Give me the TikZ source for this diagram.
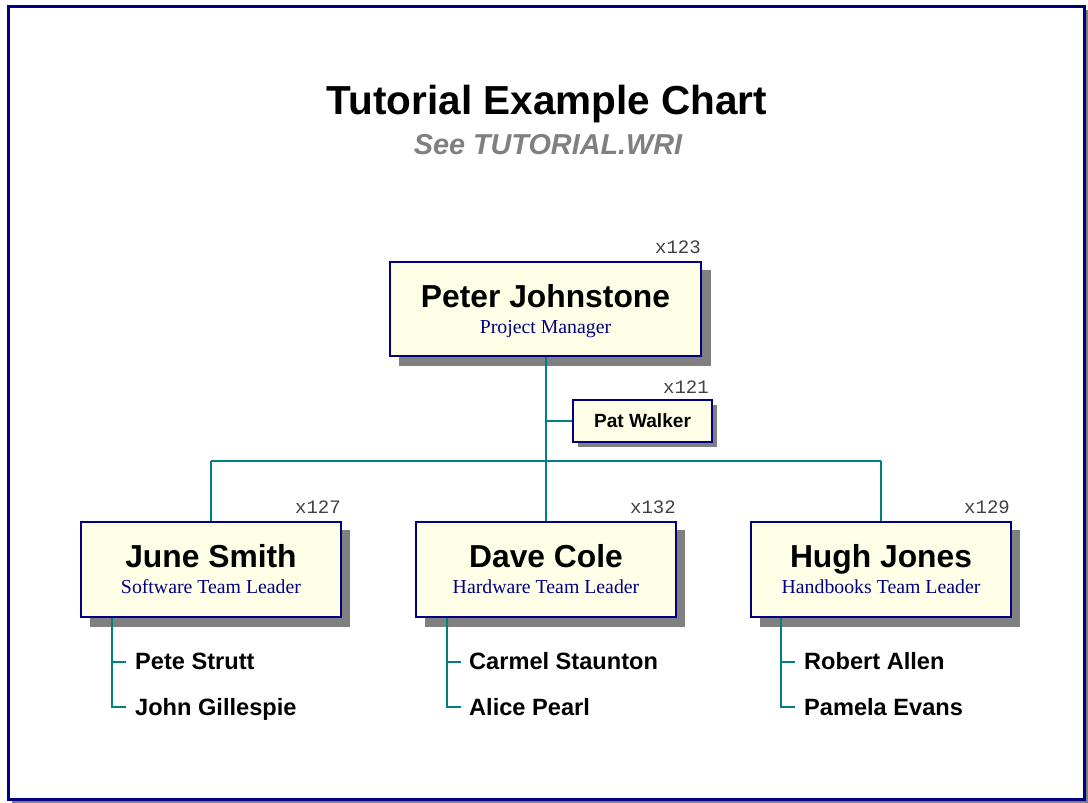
\documentclass[tikz,border=0pt]{standalone}
\usepackage{fontspec}
\setmainfont{Liberation Serif}
\setsansfont{Liberation Sans}
\setmonofont{Liberation Mono}
\definecolor{navy}{RGB}{0,0,128}
\definecolor{tealc}{RGB}{0,128,128}
\definecolor{boxfill}{RGB}{255,255,232}
\definecolor{shadowc}{RGB}{128,128,128}
\definecolor{subgray}{RGB}{128,128,128}
\begin{document}
\begin{tikzpicture}[x=1pt,y=-1pt,
  bigbox/.style={draw=navy,line width=2.2pt,fill=boxfill,minimum width=260pt,minimum height=95pt,inner sep=0pt},
  smallbox/.style={draw=navy,line width=1.5pt,fill=boxfill,minimum width=139pt,minimum height=42pt,inner sep=0pt},
  nametext/.style={font=\sffamily\bfseries\fontsize{31.8}{34}\selectfont,anchor=base,inner sep=0pt},
  roletext/.style={font=\rmfamily\fontsize{19.8}{22}\selectfont,text=navy,anchor=base,inner sep=0pt},
  ext/.style={font=\ttfamily\fontsize{19}{21}\selectfont,text=black!75,anchor=base east,inner sep=0pt},
  subitem/.style={font=\sffamily\bfseries\fontsize{23.6}{26}\selectfont,anchor=base west,inner sep=0pt},
  conn/.style={draw=tealc,line width=2pt},
  thinconn/.style={draw=tealc,line width=1.2pt},
]
\useasboundingbox (0,0) rectangle (1088,803);
% outer frame
\fill[shadowc] (12,799) rectangle (1088,803);
\fill[shadowc] (1084,10) rectangle (1088,803);
\draw[navy,line width=3pt,fill=white] (8,6) rectangle (1084,799);

% title
\node[font=\sffamily\bfseries\fontsize{40.5}{44}\selectfont,anchor=base,inner sep=0pt] (title) at (547,114) {Tutorial Example Chart};
\node[font=\sffamily\bfseries\itshape\fontsize{28.8}{32}\selectfont,text=subgray,anchor=base,inner sep=0pt] (subtitle) at (548,154) {See TUTORIAL.WRI};

% connector points
\coordinate (pjb) at (545.5,356);
\coordinate (bus) at (545.5,461);
\coordinate (busL) at (210.5,461);
\coordinate (busR) at (880.5,461);
\coordinate (pwj) at (545.5,421);

% shadows
\fill[shadowc] (399,270) rectangle (711,366);
\fill[shadowc] (578,405) rectangle (717,447);
\fill[shadowc] (90,530) rectangle (350,627);
\fill[shadowc] (425,530) rectangle (685,627);
\fill[shadowc] (760,530) rectangle (1020,627);

\draw[conn] (pjb) -- (bus);
\draw[conn] (busL) -- (busR);
\draw[conn] (busL) -- (210.5,522);
\draw[conn] (bus) -- (545.5,522);
\draw[conn] (busR) -- (880.5,522);

% Peter
\node[bigbox,minimum width=311pt,minimum height=94pt] (pj) at (545.5,309) {};
\node[nametext] (pjn) at (545.5,307) {Peter Johnstone};
\node[roletext] (pjr) at (545.5,333) {Project Manager};
\node[ext] (pjx) at (701,253) {x123};

% Pat Walker
\node[smallbox] (pw) at (642.5,421) {};
\node[font=\sffamily\bfseries\fontsize{19.1}{22}\selectfont,anchor=base,inner sep=0pt] (pwn) at (642.5,427) {Pat Walker};
\node[ext] (pwx) at (709,393) {x121};
\draw[conn] (pwj) -- (pw.west);

% June
\node[bigbox] (js) at (211,569.5) {};
\node[nametext] (jsn) at (211,567) {June Smith};
\node[roletext] (jsr) at (211,593) {Software Team Leader};
\node[ext] (jsx) at (341,513) {x127};

% Dave
\node[bigbox] (dc) at (546,569.5) {};
\node[nametext] (dcn) at (546,567) {Dave Cole};
\node[roletext] (dcr) at (546,593) {Hardware Team Leader};
\node[ext] (dcx) at (676,513) {x132};

% Hugh
\node[bigbox] (hj) at (881,569.5) {};
\node[nametext] (hjn) at (881,567) {Hugh Jones};
\node[roletext] (hjr) at (881,593) {Handbooks Team Leader};
\node[ext] (hjx) at (1010,513) {x129};

% sub items
\node[subitem] (s1) at (135,669) {Pete Strutt};
\node[subitem] (s2) at (135,715) {John Gillespie};
\node[subitem] (s3) at (469,669) {Carmel Staunton};
\node[subitem] (s4) at (469,715) {Alice Pearl};
\node[subitem] (s5) at (804,669) {Robert Allen};
\node[subitem] (s6) at (804,715) {Pamela Evans};

\foreach \bx in {112,447,781}{
  \draw[thinconn] (\bx,618) -- (\bx,707) -- (\bx+14,707);
  \draw[thinconn] (\bx,662) -- (\bx+14,662);
}
\end{tikzpicture}
\end{document}
